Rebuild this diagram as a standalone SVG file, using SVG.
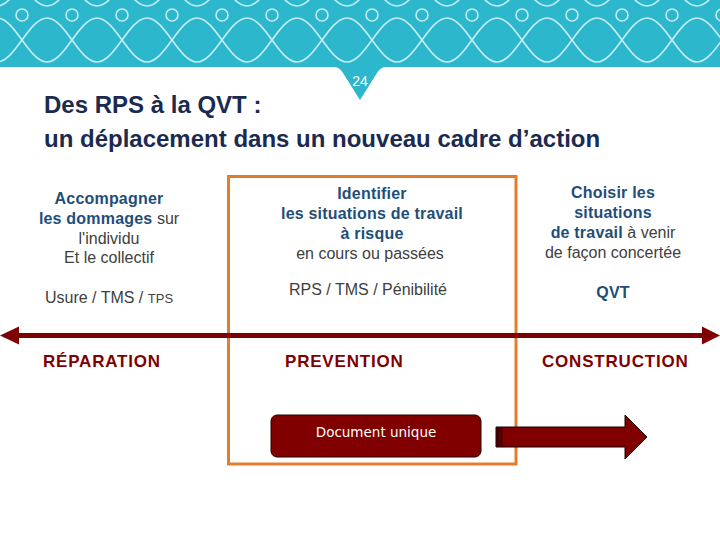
<svg xmlns="http://www.w3.org/2000/svg" xmlns:xlink="http://www.w3.org/1999/xlink" width="720" height="540" viewBox="0 0 720 540">
<defs>
<style>
.t{font-family:"Liberation Sans",Arial,sans-serif;font-weight:bold;fill:#1B2A4F;font-size:24px}
.b{font-family:"Liberation Sans",Arial,sans-serif;font-weight:bold;fill:#1F4E79;font-size:16px;letter-spacing:0.2px}
.n{font-family:"Liberation Sans",Arial,sans-serif;font-weight:normal;fill:#404040;font-size:16px;letter-spacing:0}
.r{font-family:"Liberation Sans",Arial,sans-serif;font-weight:bold;fill:#7F0000;font-size:17px;letter-spacing:0.8px}
.wave{fill:none;stroke:#C4ECF3;stroke-width:1.6}
.ring{fill:none;stroke:#C4ECF3;stroke-width:1.6}
</style>
<clipPath id="band"><rect x="0" y="0" width="720" height="67"/></clipPath>
<path id="wa" d="M-3,62 C15,62 29,18 47,18 S79,62 97,62 S129,18 147,18 S179,62 197,62 S229,18 247,18 S279,62 297,62 S329,18 347,18 S379,62 397,62 S429,18 447,18 S479,62 497,62 S529,18 547,18 S579,62 597,62 S629,18 647,18 S679,62 697,62 S729,18 747,18"/>
<path id="wb" d="M-3,18 C15,18 29,62 47,62 S79,18 97,18 S129,62 147,62 S179,18 197,18 S229,62 247,62 S279,18 297,18 S329,62 347,62 S379,18 397,18 S429,62 447,62 S479,18 497,18 S529,62 547,62 S579,18 597,18 S629,62 647,62 S679,18 697,18 S729,62 747,62"/>
</defs>
<rect width="720" height="540" fill="#FFFFFF"/>
<g id="header">
<rect x="0" y="0" width="720" height="67" fill="#2DB7CD"/>
<path d="M330,66 Q339,66 343,73 L360,100 L377,73 Q381,66 390,66 Z" fill="#2DB7CD"/>
<g clip-path="url(#band)">
<use xlink:href="#wa" class="wave"/>
<use xlink:href="#wb" class="wave"/>
<use xlink:href="#wa" class="wave" transform="translate(0,-56)"/>
<use xlink:href="#wb" class="wave" transform="translate(0,-56)"/>
<circle class="ring" cx="22" cy="15" r="6"/><circle class="ring" cx="72" cy="15" r="6"/><circle class="ring" cx="122" cy="15" r="6"/><circle class="ring" cx="172" cy="15" r="6"/><circle class="ring" cx="222" cy="15" r="6"/><circle class="ring" cx="272" cy="15" r="6"/><circle class="ring" cx="322" cy="15" r="6"/><circle class="ring" cx="372" cy="15" r="6"/><circle class="ring" cx="422" cy="15" r="6"/><circle class="ring" cx="472" cy="15" r="6"/><circle class="ring" cx="522" cy="15" r="6"/><circle class="ring" cx="572" cy="15" r="6"/><circle class="ring" cx="622" cy="15" r="6"/><circle class="ring" cx="672" cy="15" r="6"/><circle class="ring" cx="722" cy="15" r="6"/>
</g>
<text x="360" y="86" text-anchor="middle" font-family="Liberation Sans, Arial, sans-serif" font-size="14" fill="#FFFFFF">24</text>
</g>
<g id="title">
<text class="t" x="44" y="113">Des RPS à la QVT :</text>
<text class="t" x="44" y="147">un déplacement dans un nouveau cadre d’action</text>
</g>
<g id="frame">
<rect x="228.5" y="176.5" width="287.5" height="287.5" fill="none" stroke="#E57C2A" stroke-width="3"/>
</g>
<g id="col-reparation">
<text class="b" x="109" y="204" text-anchor="middle">Accompagner</text>
<text x="109" y="224" text-anchor="middle"><tspan class="b">les dommages</tspan><tspan class="n"> sur</tspan></text>
<text class="n" x="109" y="244" text-anchor="middle">l'individu</text>
<text class="n" x="109" y="263" text-anchor="middle">Et le collectif</text>
<text class="n" x="109" y="303" text-anchor="middle">Usure / TMS / <tspan font-size="13">TPS</tspan></text>
<text class="r" x="43" y="367">RÉPARATION</text>
</g>
<g id="col-prevention">
<text class="b" x="372" y="199" text-anchor="middle">Identifier</text>
<text class="b" x="372" y="219" text-anchor="middle">les situations de travail</text>
<text class="b" x="372" y="239" text-anchor="middle">à risque</text>
<text class="n" x="370" y="259" text-anchor="middle">en cours ou passées</text>
<text class="n" x="368" y="295" text-anchor="middle">RPS / TMS / Pénibilité</text>
<text class="r" x="285" y="367">PREVENTION</text>
</g>
<g id="col-construction">
<text class="b" x="613" y="198" text-anchor="middle">Choisir les</text>
<text class="b" x="613" y="218" text-anchor="middle">situations</text>
<text x="613" y="238" text-anchor="middle"><tspan class="b">de travail</tspan><tspan class="n"> à venir</tspan></text>
<text class="n" x="613" y="258" text-anchor="middle">de façon concertée</text>
<text class="b" x="613" y="298" text-anchor="middle">QVT</text>
<text class="r" x="542" y="367">CONSTRUCTION</text>
</g>
<g id="connectors">
<line x1="16" y1="335.5" x2="704" y2="335.5" stroke="#7F0000" stroke-width="5"/>
<path d="M0,335.5 L19,326.5 L19,344.5 Z" fill="#7F0000"/>
<path d="M720,335.5 L702,326.5 L702,344.5 Z" fill="#7F0000"/>
</g>
<g id="doc-unique">
<rect x="271" y="415" width="210" height="42" rx="6" fill="#800000" stroke="#2A0000" stroke-width="1"/>
<text x="376" y="437" text-anchor="middle" font-family="DejaVu Sans, Verdana, sans-serif" font-size="13.5" fill="#FFFFFF">Document unique</text>
</g>
<g id="block-arrow">
<path d="M496,427 L625,427 L625,415 L647,437 L625,459 L625,447 L496,447 Z" fill="#800000" stroke="#1A0000" stroke-width="1"/>
<rect x="496.5" y="427.5" width="6" height="19" fill="#3A0000"/>
<line x1="500" y1="428" x2="500" y2="446" stroke="#7A0000" stroke-width="1"/>
</g>
</svg>
